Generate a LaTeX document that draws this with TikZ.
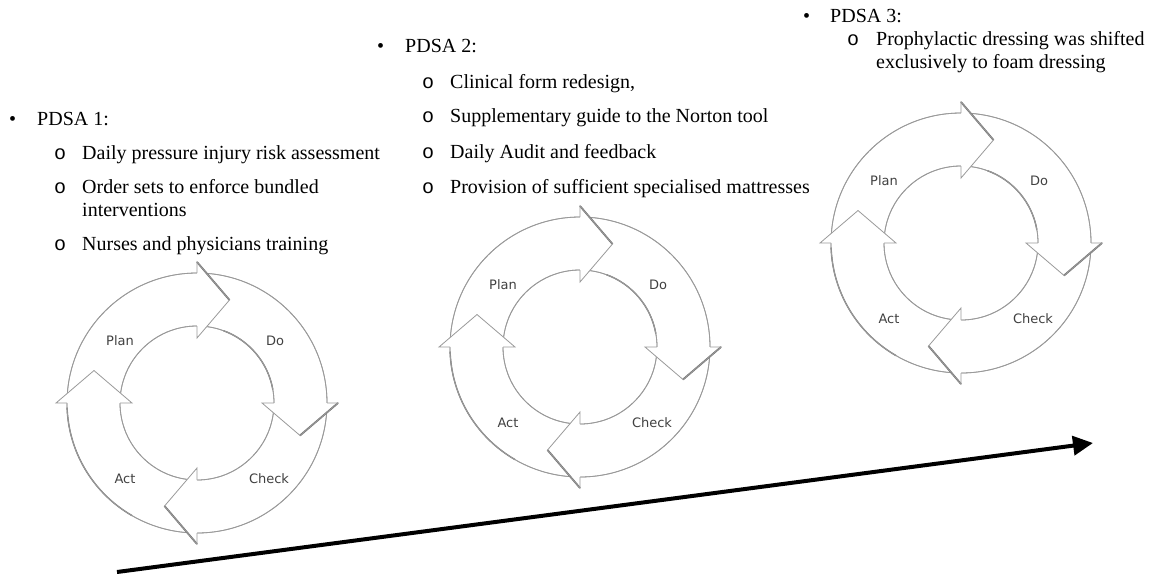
\documentclass[tikz,border=0pt]{standalone}
\usepackage{fontspec}
\setmainfont{Liberation Serif}
\newfontfamily\lblfont{DejaVu Sans}
\newfontfamily\bulmono{Liberation Mono}
\usetikzlibrary{arrows.meta,calc}
\definecolor{ringgray}{HTML}{9A9A9A}
\definecolor{shadegray}{HTML}{707070}
\definecolor{lblgray}{HTML}{404040}

\newcommand\pdsahead[2]{%
  \fill[white] (#1:77pt) -- (#1:65pt) -- (#1-17.5:108pt) -- (#1:141pt) -- (#1:130pt) -- cycle;
  \ifnum#2=1
    \draw[shadeedge] (#1:141pt) -- (#1-17.5:108pt);
  \fi
  \draw[ring] (#1:130pt) -- (#1:141pt) -- (#1-17.5:108pt) -- (#1:65pt) -- (#1:77pt);
}

\newcommand\pdsacycle[2]{%
  \begin{scope}[shift={#1}]
    \fill[white,even odd rule] (0,0) circle[radius=130pt] (0,0) circle[radius=77pt];
    \draw[ring] (0,0) circle[radius=130pt];
    \draw[ring] (0,0) circle[radius=77pt];
    \draw[softshade] (70:77pt) arc[start angle=70,end angle=10,radius=77pt];
    \draw[softshade] (182:130pt) arc[start angle=182,end angle=240,radius=130pt];
    \draw[ring] (0,0) circle[radius=77pt];
    \draw[ring] (0,0) circle[radius=130pt];
    \pdsahead{90}{1}
    \pdsahead{0}{1}
    \pdsahead{-90}{1}
    \pdsahead{180}{0}
    \node[lbl] (#2plan) at (-77,62) {Plan};
    \node[lbl] (#2do) at (78,62) {Do};
    \node[lbl] (#2act) at (-72,-76) {Act};
    \node[lbl] (#2check) at (72,-76) {Check};
  \end{scope}
}

\begin{document}
\begin{tikzpicture}[x=1pt,y=1pt,
  txt/.style={anchor=base west,inner sep=0pt,font=\fontsize{20}{23}\selectfont},
  subbul/.style={anchor=base west,inner sep=0pt,font=\bulmono\fontsize{20}{23}\selectfont},
  lbl/.style={font=\lblfont\fontsize{13}{15}\selectfont,text=lblgray,inner sep=0pt},
  ring/.style={draw=ringgray,line width=0.8pt},
  shadeedge/.style={draw=shadegray,line width=1.8pt},
  softshade/.style={draw=ringgray!85!black,line width=1.4pt},
  trend/.style={line width=4pt,-{Triangle[length=20pt,width=19pt]}}
]
\useasboundingbox (0,0) rectangle (1153,-574);

% trend arrow
\coordinate (trendstart) at (117,-572);
\coordinate (trendend) at (1093,-443);
\draw[trend] (trendstart) -- (trendend);

% cycles
\pdsacycle{(197,-403)}{c1}
\pdsacycle{(580,-347)}{c2}
\pdsacycle{(961,-243)}{c3}

% PDSA 1
\node[txt] (b1) at (9,-125) {•};
\node[txt] (h1) at (37,-125) {PDSA 1:};
\node[subbul] (o11) at (54,-159) {o};
\node[txt] (t11) at (82,-159) {Daily pressure injury risk assessment};
\node[subbul] (o12) at (54,-193) {o};
\node[txt] (t12) at (82,-193) {Order sets to enforce bundled};
\node[txt] (t12b) at (82,-216) {interventions};
\node[subbul] (o13) at (54,-250) {o};
\node[txt] (t13) at (82,-250) {Nurses and physicians training};

% PDSA 2
\node[txt] (b2) at (377,-52) {•};
\node[txt] (h2) at (405,-52) {PDSA 2:};
\node[subbul] (o21) at (422,-88) {o};
\node[txt] (t21) at (450,-88) {Clinical form redesign,};
\node[subbul] (o22) at (422,-122) {o};
\node[txt] (t22) at (450,-122) {Supplementary guide to the Norton tool};
\node[subbul] (o23) at (422,-158) {o};
\node[txt] (t23) at (450,-158) {Daily Audit and feedback};
\node[subbul] (o24) at (422,-193) {o};
\node[txt] (t24) at (450,-193) {Provision of sufficient specialised mattresses};

% PDSA 3
\node[txt] (b3) at (803,-22) {•};
\node[txt] (h3) at (830,-22) {PDSA 3:};
\node[subbul] (o31) at (847,-45) {o};
\node[txt] (t31) at (876,-45) {Prophylactic dressing was shifted};
\node[txt] (t31b) at (876,-68) {exclusively to foam dressing};
\end{tikzpicture}
\end{document}
